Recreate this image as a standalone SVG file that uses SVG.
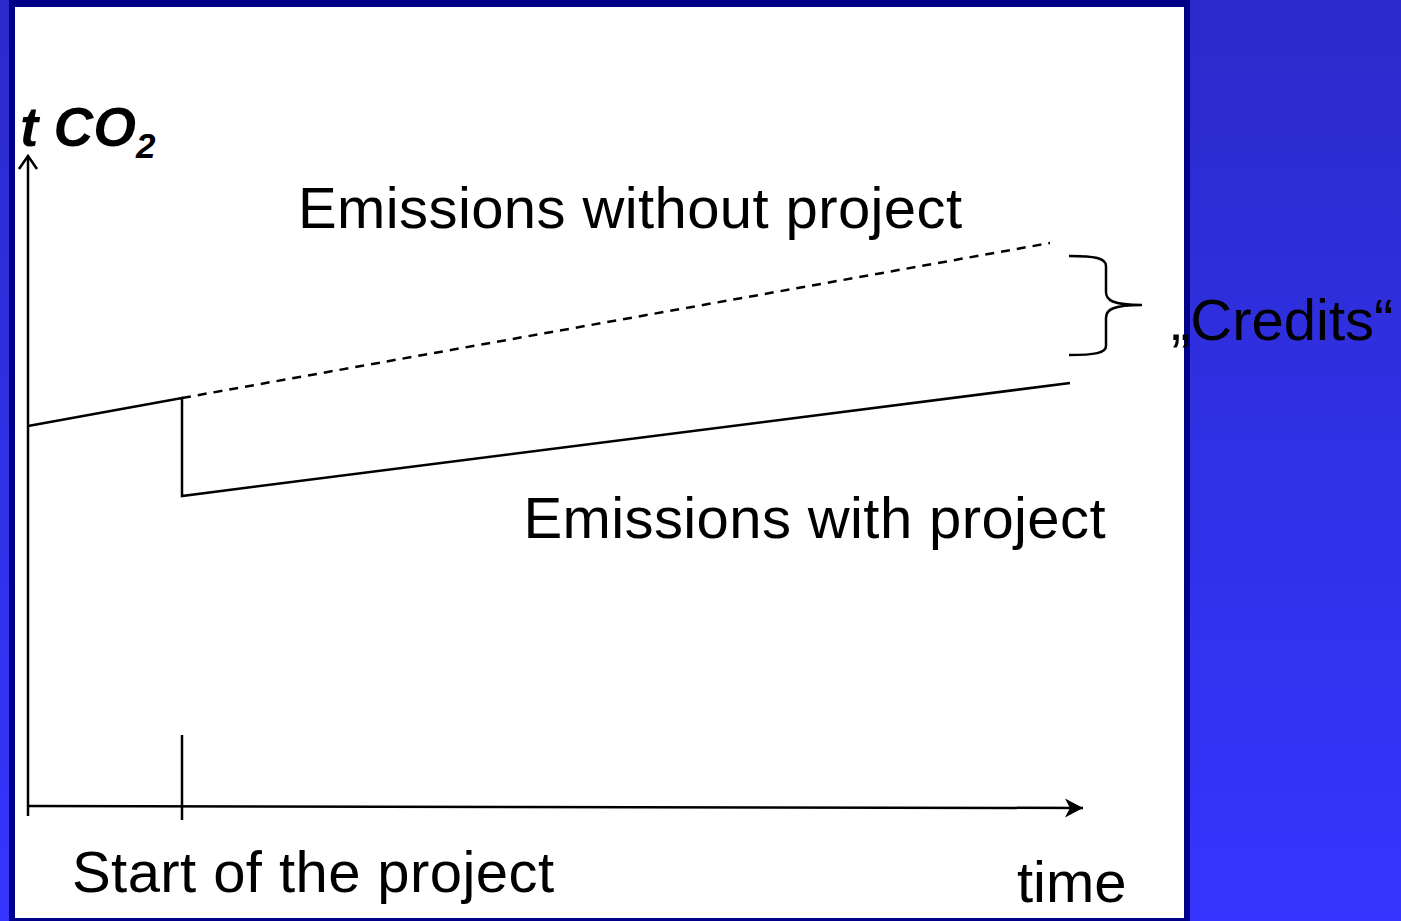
<svg xmlns="http://www.w3.org/2000/svg" width="1401" height="921" viewBox="0 0 1401 921">
<defs>
<linearGradient id="bg" x1="0" y1="0" x2="0" y2="1">
<stop offset="0" stop-color="#2B2BCB"/>
<stop offset="1" stop-color="#3535FF"/>
</linearGradient>
<marker id="stealth" markerUnits="userSpaceOnUse" markerWidth="24" markerHeight="24" viewBox="0 0 24 24" refX="20" refY="12" orient="auto">
<path d="M20,12 L2,2.5 L7,12 L2,21.5 Z" fill="#000"/>
</marker>
</defs>
<style>
.ln{fill:none;stroke:#000;stroke-width:2.5}
.lbl{font-family:"Liberation Sans",Arial,sans-serif;font-size:58px;fill:#000}
.ax{font-family:"Liberation Sans",Arial,sans-serif;font-size:55px;font-weight:bold;font-style:italic;fill:#000}
</style>
<rect x="0" y="0" width="1401" height="921" fill="url(#bg)"/>
<rect x="9" y="0" width="1181" height="921" fill="#000088"/>
<rect x="15" y="7" width="1169" height="911" fill="#fff"/>

<g id="connectors">
<line class="ln" x1="28" y1="816" x2="28" y2="156"/>
<polyline class="ln" points="19,169 28,156 37,169"/>
<line class="ln" x1="28" y1="806" x2="1083" y2="808" marker-end="url(#stealth)"/>
<line class="ln" x1="182" y1="735" x2="182" y2="820"/>
<polyline class="ln" points="28,426 182,398 182,496 1070,383"/>
<line class="ln" x1="182" y1="398" x2="1050" y2="243" stroke-dasharray="9,7"/>
<path class="ln" d="M1069,256 C1095,256 1106,258 1106,266 L1106,292 C1106,300 1112,305 1142,305 C1112,305 1106,310 1106,318 L1106,346 C1106,353 1095,355 1069,355"/>
</g>

<g id="axis-y-label">
<text class="ax" x="20" y="146">t CO<tspan font-size="35" y="158">2</tspan></text>
</g>
<g id="emissions-without">
<text class="lbl" x="298" y="228" textLength="664" lengthAdjust="spacing">Emissions without project</text>
</g>
<g id="emissions-with">
<text class="lbl" x="523.5" y="538" textLength="582" lengthAdjust="spacing">Emissions with project</text>
</g>
<g id="credits">
<text class="lbl" x="1171" y="340">„Credits“</text>
</g>
<g id="start-label">
<text class="lbl" x="72" y="892" textLength="482" lengthAdjust="spacing">Start of the project</text>
</g>
<g id="time-label">
<text class="lbl" x="1017" y="902">time</text>
</g>
</svg>
